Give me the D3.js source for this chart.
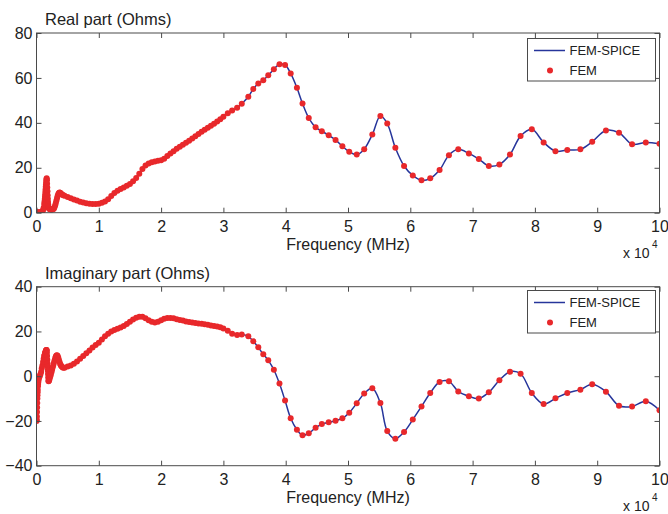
<!DOCTYPE html>
<html lang="en">
<head>
<meta charset="UTF-8">
<title>FEM-SPICE vs FEM impedance</title>
<style>
  body { margin: 0; background: #ffffff; }
  svg { display: block; font-family: "Liberation Sans", Arial, sans-serif; }
  .frame { fill: none; stroke: #4a4a4a; stroke-width: 1; }
  .axis path { display: none; }
  .axis line { stroke: #4a4a4a; }
  .axis text { fill: #222222; font-size: 16px; font-family: "Liberation Sans", Arial, sans-serif; }
  .label { fill: #222222; font-size: 16px; }
  .legend-box { fill: #ffffff; stroke: #4a4a4a; stroke-width: 1; }
  .legend-text { fill: #222222; font-size: 13px; }
</style>
</head>
<body>
<svg id="chart" width="668" height="514"></svg>
<script src="https://d3js.org/d3.v7.min.js"></script>
<script>
// Frequency in units of 10^4 MHz (shared by both panels), impedance in Ohms.
// Start of the sweep
const freqStart = [0.002, 0.004, 0.006, 0.008, 0.010, 0.012, 0.014, 0.016, 0.018, 0.020, 0.023, 0.026, 0.030,
                   0.035, 0.045, 0.055, 0.065, 0.075, 0.085, 0.095, 0.105, 0.115, 0.125];
const realStart = [0, 0, 0, 0, 0, 0, 0, 0, 0, 0, 0, 0, 0.1,
                   0.1, 0.1, 0.1, 0.1, 0.2, 0.3, 0.6, 1.2, 2.2, 3.8];
const imagStart = [-20, -19.5, -18, -16, -14, -12, -10, -8.5, -7.2, -6, -4.5, -3.5, -2.5,
                   -1.5, -0.5, 0.3, 1.0, 2.0, 3.5, 4.8, 6.3, 7.8, 8.9];

// First resonance spike
const freqSpike = [0.128, 0.131, 0.134, 0.137, 0.140, 0.143, 0.146, 0.149, 0.152, 0.155, 0.158,
                   0.161, 0.164, 0.167, 0.170, 0.173, 0.176, 0.179, 0.182, 0.185, 0.188, 0.191];
const realSpike = [4.5, 5.3, 6.2, 7.2, 8.2, 9.3, 10.4, 11.5, 12.5, 13.5, 14.3,
                   15.0, 15.3, 14.4, 12.9, 11.2, 9.5, 7.8, 6.2, 4.8, 3.6, 2.7];
const imagSpike = [9.2, 9.5, 9.8, 10.1, 10.4, 10.7, 11.0, 11.2, 11.4, 11.6, 11.7,
                   11.7, 11.5, 10.5, 9.0, 7.4, 5.8, 4.2, 2.6, 1.0, -0.6, -2.0];

// Second small bump
const freqBump = [0.195, 0.20, 0.21, 0.22, 0.23, 0.24, 0.25, 0.26, 0.27, 0.28, 0.29, 0.30,
                  0.31, 0.32, 0.33, 0.34, 0.35, 0.36, 0.37, 0.38, 0.39, 0.40, 0.415, 0.43];
const realBump = [2.2, 1.9, 1.6, 1.5, 1.4, 1.4, 1.4, 1.5, 1.6, 1.9, 2.5, 3.3,
                  4.3, 5.4, 6.5, 7.5, 8.3, 8.8, 9.0, 8.9, 8.6, 8.3, 8.0, 7.8];
const imagBump = [-2.3, -2.0, -1.2, -0.3, 0.7, 1.8, 2.9, 4.0, 5.0, 6.0, 7.0, 8.0,
                  8.8, 9.3, 9.4, 9.0, 8.2, 7.2, 6.3, 5.5, 4.9, 4.5, 4.0, 3.8];

// Dense middle band
const freqMid = [0.45, 0.50, 0.55, 0.60, 0.65, 0.70, 0.75, 0.80, 0.85, 0.90,
                 0.95, 1.00, 1.05, 1.10, 1.15, 1.20, 1.25, 1.30, 1.35, 1.40,
                 1.45, 1.50, 1.55, 1.60, 1.65, 1.70, 1.75, 1.80, 1.85, 1.90,
                 1.95, 2.00, 2.05, 2.10, 2.15, 2.20, 2.25, 2.30, 2.35, 2.40,
                 2.45, 2.50, 2.55, 2.60, 2.65, 2.70, 2.75, 2.80, 2.85, 2.90,
                 2.95, 3.00];
const realMid = [7.6, 7.0, 6.4, 5.9, 5.4, 4.9, 4.5, 4.2, 4.0, 3.9,
                 3.9, 4.0, 4.4, 5.0, 6.0, 7.4, 8.8, 9.8, 10.5, 11.2,
                 12.0, 12.8, 14.0, 15.5, 17.3, 19.4, 21.0, 21.9, 22.5, 22.8,
                 23.1, 23.4, 24.0, 25.2, 26.3, 27.4, 28.5, 29.4, 30.2, 31.1,
                 32.0, 33.0, 34.0, 35.0, 36.0, 36.9, 37.8, 38.7, 39.6, 40.6,
                 41.6, 42.7];
const imagMid = [3.8, 4.3, 4.8, 5.6, 6.6, 7.8, 9.0, 10.3, 11.5, 12.8,
                 13.9, 15.0, 16.4, 17.8, 19.0, 20.0, 20.6, 21.2, 21.8, 22.4,
                 23.3, 24.3, 25.3, 26.1, 26.6, 26.6, 25.9, 25.0, 24.3, 24.0,
                 24.3, 25.0, 25.7, 26.0, 26.0, 25.9, 25.5, 25.1, 24.9, 24.5,
                 24.2, 24.0, 23.8, 23.6, 23.4, 23.2, 23.0, 22.7, 22.4, 22.2,
                 21.9, 21.3];

// Sparse high-frequency samples
const freqHigh = [3.07, 3.14, 3.22, 3.295, 3.40, 3.48, 3.56, 3.64, 3.72, 3.81,
                  3.90, 3.99, 4.08, 4.18, 4.27, 4.37, 4.48, 4.58, 4.69, 4.80,
                  4.91, 5.02, 5.14, 5.26, 5.39, 5.52, 5.63, 5.76, 5.90, 6.04,
                  6.18, 6.32, 6.47, 6.62, 6.77, 6.94, 7.10, 7.26, 7.43, 7.60,
                  7.77, 7.95, 8.14, 8.33, 8.52, 8.73, 8.92, 9.14, 9.35, 9.56,
                  9.78, 10.0];
const realHigh = [44.3, 45.5, 46.7, 48.5, 51.6, 55.1, 57.5, 59.0, 61.2, 63.9,
                  66.1, 65.8, 62.0, 55.6, 48.6, 42.2, 38.0, 36.3, 34.5, 32.4,
                  29.6, 27.1, 25.9, 28.3, 34.8, 43.0, 39.7, 28.9, 20.8, 16.6,
                  14.4, 15.3, 19.0, 25.6, 28.2, 26.4, 23.9, 20.8, 21.5, 25.9,
                  34.1, 37.1, 31.3, 27.4, 27.9, 28.2, 31.6, 36.6, 35.6, 30.5,
                  31.3, 30.7];
const imagHigh = [20.3, 19.0, 18.4, 18.6, 17.8, 15.6, 12.9, 9.8, 7.1, 2.9,
                  -3.3, -10.9, -18.8, -23.9, -26.4, -25.5, -23.0, -21.4, -20.6, -19.9,
                  -18.8, -16.3, -12.1, -7.7, -5.4, -12.0, -24.5, -27.9, -24.9, -19.4,
                  -13.5, -7.5, -2.6, -2.3, -6.8, -9.0, -10.0, -7.2, -1.8, 2.0,
                  1.1, -7.5, -12.4, -9.9, -7.5, -6.0, -3.6, -6.9, -13.2, -13.5,
                  -11.2, -15.2];

const freq = [].concat(freqStart, freqSpike, freqBump, freqMid, freqHigh);
const realOhms = [].concat(realStart, realSpike, realBump, realMid, realHigh);
const imagOhms = [].concat(imagStart, imagSpike, imagBump, imagMid, imagHigh);

const xTicks = [0, 1, 2, 3, 4, 5, 6, 7, 8, 9, 10];
const realTicks = [0, 20, 40, 60, 80];
const imagTicks = [-40, -20, 0, 20, 40];
const seriesNames = ["FEM-SPICE", "FEM"];

const lineColor = "#26359b";
const dotColor = "#e8282b";
const dotRadius = 3;

const svg = d3.select("#chart");
const plotLeft = 36.5, plotRight = 659.5;
const x = d3.scaleLinear().domain([0, 10]).range([plotLeft, plotRight]);

function drawPanel(opt) {
    const y = d3.scaleLinear().domain(opt.yDomain).range([opt.bottom, opt.top]);
    const g = svg.append("g");
    const pts = freq.map((f, i) => ({ f: f, v: opt.values[i] }));

    g.append("clipPath").attr("id", opt.id + "-clip")
        .append("rect")
        .attr("x", plotLeft).attr("y", opt.top)
        .attr("width", plotRight - plotLeft).attr("height", opt.bottom - opt.top);

    const plot = g.append("g").attr("clip-path", `url(#${opt.id}-clip)`);

    // FEM-SPICE curve
    plot.append("path")
        .datum(pts)
        .attr("fill", "none")
        .attr("stroke", lineColor)
        .attr("stroke-width", 1.5)
        .attr("d", d3.line().x(d => x(d.f)).y(d => y(d.v)).curve(d3.curveCatmullRom.alpha(0.5)));

    // FEM samples
    plot.selectAll("circle")
        .data(pts)
        .join("circle")
        .attr("cx", d => x(d.f))
        .attr("cy", d => y(d.v))
        .attr("r", dotRadius)
        .attr("fill", dotColor);

    // ticks on all four sides, pointing inward
    g.append("g").attr("class", "axis")
        .attr("transform", `translate(0,${opt.bottom})`)
        .call(d3.axisBottom(x).tickValues(xTicks).tickSize(-5).tickPadding(8).tickFormat(d3.format("d")));
    g.append("g").attr("class", "axis")
        .attr("transform", `translate(0,${opt.top})`)
        .call(d3.axisTop(x).tickValues(xTicks).tickSize(-5).tickFormat(""));
    g.append("g").attr("class", "axis")
        .attr("transform", `translate(${plotLeft},0)`)
        .call(d3.axisLeft(y).tickValues(opt.ticks).tickSize(-5).tickPadding(4).tickFormat(d3.format("d")));
    g.append("g").attr("class", "axis")
        .attr("transform", `translate(${plotRight},0)`)
        .call(d3.axisRight(y).tickValues(opt.ticks).tickSize(-5).tickFormat(""));

    g.append("rect").attr("class", "frame")
        .attr("x", plotLeft).attr("y", opt.top)
        .attr("width", plotRight - plotLeft).attr("height", opt.bottom - opt.top);

    // titles
    g.append("text").attr("class", "label")
        .attr("x", 45).attr("y", opt.top - 8)
        .style("font-size", "16.5px")
        .text(opt.title);
    g.append("text").attr("class", "label")
        .attr("x", (plotLeft + plotRight) / 2).attr("y", opt.bottom + 37)
        .attr("text-anchor", "middle")
        .text("Frequency (MHz)");
    g.append("text").attr("class", "label")
        .attr("x", 623).attr("y", opt.bottom + 45)
        .style("font-size", "14px")
        .text("x 10");
    g.append("text").attr("class", "label")
        .attr("x", 652).attr("y", opt.bottom + 35)
        .style("font-size", "10px")
        .text("4");

    // legend
    const lg = g.append("g").attr("transform", `translate(527.5,${opt.legendTop})`);
    lg.append("rect").attr("class", "legend-box")
        .attr("width", 128).attr("height", 42.5);
    lg.append("line")
        .attr("x1", 6.5).attr("x2", 37.5).attr("y1", 12).attr("y2", 12)
        .attr("stroke", lineColor).attr("stroke-width", 1.5);
    lg.append("circle").attr("cx", 22.5).attr("cy", 32).attr("r", dotRadius).attr("fill", dotColor);
    lg.selectAll("text.legend-text")
        .data(seriesNames)
        .join("text")
        .attr("class", "legend-text")
        .attr("x", 42).attr("y", (d, i) => 16.5 + i * 20)
        .text(d => d);
}

drawPanel({ id: "real", values: realOhms, yDomain: [0, 80], ticks: realTicks,
            top: 33, bottom: 212.7, legendTop: 38.5, title: "Real part (Ohms)" });
drawPanel({ id: "imag", values: imagOhms, yDomain: [-40, 40], ticks: imagTicks,
            top: 286.7, bottom: 465.7, legendTop: 290.5, title: "Imaginary part (Ohms)" });
</script>
</body>
</html>
